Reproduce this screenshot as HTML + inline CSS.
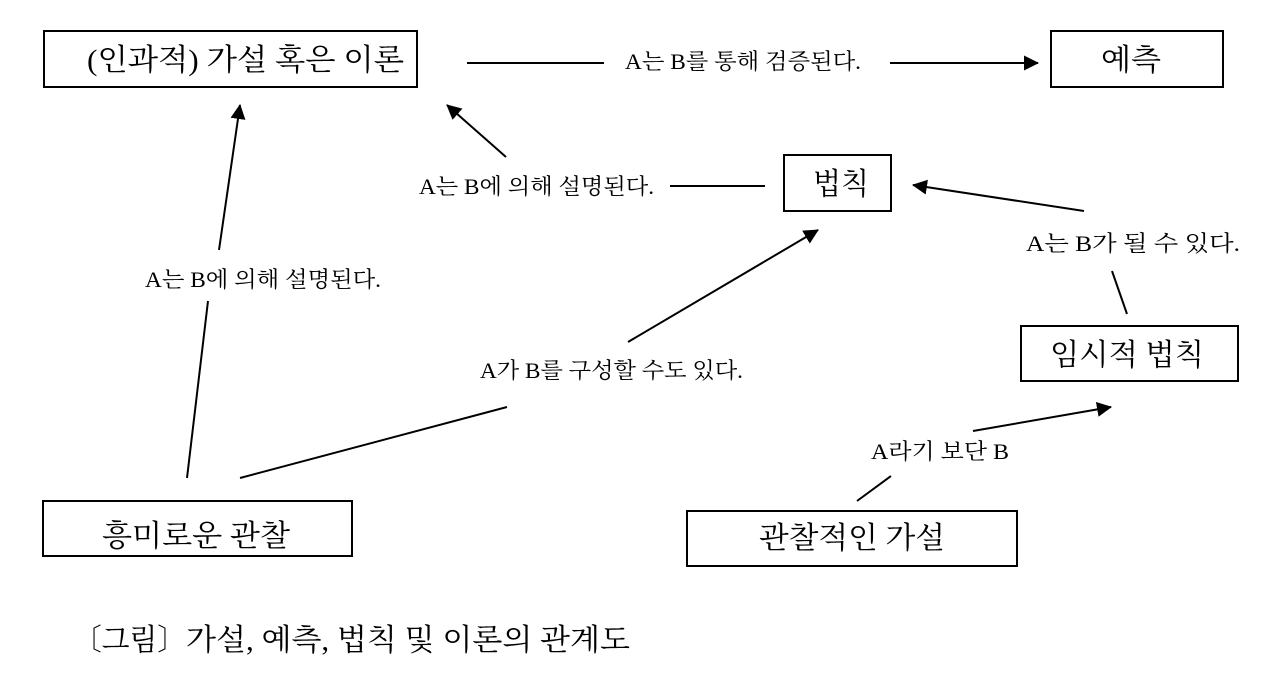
<!DOCTYPE html>
<html lang="ko"><head><meta charset="utf-8"><style>
html,body{margin:0;padding:0;background:#fff;width:1280px;height:673px;overflow:hidden}
svg{display:block}
text{font-family:"Liberation Serif","Noto Serif CJK SC","Noto Serif CJK KR",serif;fill:#000;font-weight:400}
.b{font-size:30px}.s{font-size:22px}.c{font-size:30px}
rect{fill:#fff;stroke:#000;stroke-width:2}
line{stroke:#000;stroke-width:2}
</style></head><body>
<svg width="1280" height="673" viewBox="0 0 1280 673" xmlns="http://www.w3.org/2000/svg">
<defs><marker id="a" markerUnits="userSpaceOnUse" markerWidth="20" markerHeight="18" refX="14" refY="7.5" orient="auto"><polygon points="0,0 15,7.5 0,15" fill="#000"/></marker></defs>
<rect x="44" y="31" width="373" height="56"/>
<rect x="1051" y="31" width="172" height="56"/>
<rect x="784" y="155" width="107" height="56"/>
<rect x="1021" y="326" width="217" height="55"/>
<rect x="43" y="501" width="309" height="55"/>
<rect x="687" y="511" width="330" height="55"/>
<text class="b" x="87" y="70" textLength="317" lengthAdjust="spacingAndGlyphs">(인과적) 가설 혹은 이론</text>
<text class="b" x="1101" y="70" textLength="60" lengthAdjust="spacingAndGlyphs">예측</text>
<text class="b" x="813" y="194" textLength="56" lengthAdjust="spacingAndGlyphs">법칙</text>
<text class="b" x="1050" y="365" textLength="154" lengthAdjust="spacingAndGlyphs">임시적 법칙</text>
<text class="b" x="102" y="546" textLength="188" lengthAdjust="spacingAndGlyphs">흥미로운 관찰</text>
<text class="b" x="759" y="548" textLength="186" lengthAdjust="spacingAndGlyphs">관찰적인 가설</text>
<text class="s" x="625" y="69" textLength="236" lengthAdjust="spacingAndGlyphs">A는 B를 통해 검증된다.</text>
<text class="s" x="419" y="194" textLength="235" lengthAdjust="spacingAndGlyphs">A는 B에 의해 설명된다.</text>
<text class="s" x="145" y="287" textLength="236" lengthAdjust="spacingAndGlyphs">A는 B에 의해 설명된다.</text>
<text class="s" x="1026" y="251" textLength="214" lengthAdjust="spacingAndGlyphs">A는 B가 될 수 있다.</text>
<text class="s" x="480" y="378" textLength="263" lengthAdjust="spacingAndGlyphs">A가 B를 구성할 수도 있다.</text>
<text class="s" x="871" y="459" textLength="138" lengthAdjust="spacingAndGlyphs">A라기 보단 B</text>
<text class="c" x="73" y="650" textLength="113" lengthAdjust="spacingAndGlyphs">〔그림〕</text>
<text class="c" x="186" y="650" textLength="444" lengthAdjust="spacingAndGlyphs">가설, 예측, 법칙 및 이론의 관계도</text>
<line x1="467" y1="63" x2="604" y2="63"/>
<line x1="890" y1="63" x2="1038" y2="63" marker-end="url(#a)"/>
<line x1="506" y1="157" x2="447" y2="105" marker-end="url(#a)"/>
<line x1="670" y1="186" x2="765" y2="186"/>
<line x1="1084" y1="211" x2="913" y2="185" marker-end="url(#a)"/>
<line x1="1127" y1="314" x2="1112" y2="271"/>
<line x1="219" y1="250" x2="240" y2="105" marker-end="url(#a)"/>
<line x1="187" y1="478" x2="208" y2="301"/>
<line x1="628" y1="342" x2="818" y2="230" marker-end="url(#a)"/>
<line x1="240" y1="478" x2="507" y2="407"/>
<line x1="973" y1="431" x2="1111" y2="407" marker-end="url(#a)"/>
<line x1="857" y1="501" x2="891" y2="476"/>
</svg>
</body></html>
